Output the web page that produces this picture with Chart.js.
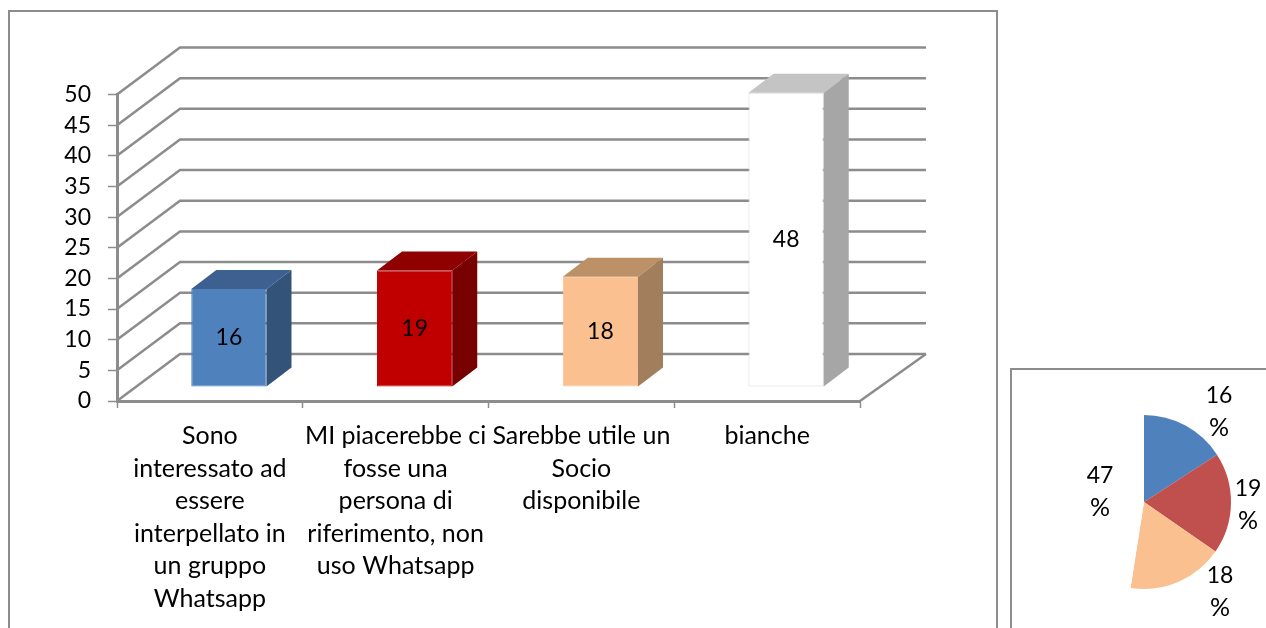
<!DOCTYPE html>
<html lang="it">
<head>
<meta charset="utf-8">
<title>Grafico</title>
<script src="https://cdn.jsdelivr.net/npm/chart.js@4"></script>
<style>
  html, body { margin: 0; padding: 0; width: 1266px; height: 628px; overflow: hidden; background: #fff; }
  .frame { position: absolute; border: 2px solid #8c8c8c; box-sizing: border-box; }
  #barFrame { left: 8px; top: 10px; width: 990px; height: 640px; }
  #pieFrame { left: 1010px; top: 368px; width: 300px; height: 300px; }
  canvas { position: absolute; }
  #barChart { left: 0; top: 0; }
  #pieChart { left: 1013px; top: 370px; }
</style>
</head>
<body>
<div class="frame" id="barFrame"></div>
<div class="frame" id="pieFrame"></div>
<canvas id="barChart" width="1000" height="628" style="width:1000px;height:628px"></canvas>
<canvas id="pieChart" width="253" height="258" style="width:253px;height:258px"></canvas>

<script>
const categories = [
  ['Sono', 'interessato ad', 'essere', 'interpellato in', 'un gruppo', 'Whatsapp'],
  ['MI piacerebbe ci', 'fosse una', 'persona di', 'riferimento, non', 'uso Whatsapp'],
  ['Sarebbe utile un', 'Socio', 'disponibile'],
  ['bianche']
];
const barValues = [16, 19, 18, 48];
const yTicks = [0, 5, 10, 15, 20, 25, 30, 35, 40, 45, 50];

const pieValues = [16, 19, 18, 48];
const pieLabels = ['16', '19', '18', '47'];

// colori: fronte, sopra, lato
const barFront = ['#4f81bd', '#c00000', '#fac090', '#ffffff'];
const barTop = ['#3d6090', '#8f0000', '#bd9168', '#c4c4c4'];
const barSide = ['#335378', '#790000', '#a37e5d', '#a6a6a6'];
const barEdge = ['#4f81bd', '#c00000', '#fac090', '#d9d9d9'];
const pieColors = ['#4f81bd', '#c0504d', '#fac090', '#ffffff'];

const lineColor = '#8c8c8c';
const fontName = 'Lato, Carlito, Calibri, sans-serif';
const digitSize = 23;
const textSize = 25;

// profondita del fondo e delle barre
const wallDepth = { x: 63, y: -47 };
const barDepth = { x: 25, y: -19 };
const barShift = { x: 19, y: -14 };

const wallsAndBoxes = {
  id: 'wallsAndBoxes',
  beforeDatasetsDraw(chart) {
    const ctx = chart.ctx;
    const y = chart.scales.y;
    const area = chart.chartArea;
    const backRight = area.right + wallDepth.x + 3;

    ctx.save();
    ctx.strokeStyle = lineColor;
    ctx.lineWidth = 2.5;
    yTicks.forEach(value => {
      const py = y.getPixelForValue(value);
      ctx.beginPath();
      ctx.moveTo(area.left, py);
      ctx.lineTo(area.left + wallDepth.x, py + wallDepth.y);
      ctx.lineTo(backRight, py + wallDepth.y);
      ctx.stroke();
    });
    // lato destro del pavimento
    ctx.beginPath();
    ctx.moveTo(backRight, area.bottom + wallDepth.y);
    ctx.lineTo(area.right, area.bottom);
    ctx.stroke();
    ctx.restore();

    // le barre stanno dentro il pavimento
    ctx.save();
    ctx.translate(barShift.x, barShift.y);
  },
  afterDatasetsDraw(chart) {
    const ctx = chart.ctx;
    ctx.restore();

    const bars = chart.getDatasetMeta(0).data;
    ctx.save();
    bars.forEach((bar, i) => {
      const left = bar.x - bar.width / 2 + barShift.x;
      const right = bar.x + bar.width / 2 + barShift.x;
      const top = bar.y + barShift.y;
      const bottom = bar.base + barShift.y;

      // sopra
      ctx.fillStyle = barTop[i];
      ctx.beginPath();
      ctx.moveTo(left, top);
      ctx.lineTo(left + barDepth.x, top + barDepth.y);
      ctx.lineTo(right + barDepth.x, top + barDepth.y);
      ctx.lineTo(right, top);
      ctx.closePath();
      ctx.fill();

      // lato
      ctx.fillStyle = barSide[i];
      ctx.beginPath();
      ctx.moveTo(right, top);
      ctx.lineTo(right + barDepth.x, top + barDepth.y);
      ctx.lineTo(right + barDepth.x, bottom + barDepth.y);
      ctx.lineTo(right, bottom);
      ctx.closePath();
      ctx.fill();

      // valore
      ctx.fillStyle = '#000';
      ctx.font = digitSize + 'px ' + fontName;
      ctx.textAlign = 'center';
      ctx.textBaseline = 'middle';
      ctx.fillText(String(barValues[i]), (left + right) / 2, (top + bottom) / 2);
    });
    ctx.restore();
  }
};

new Chart(document.getElementById('barChart'), {
  type: 'bar',
  data: {
    labels: categories,
    datasets: [{
      data: barValues,
      backgroundColor: barFront,
      borderColor: barEdge,
      borderWidth: 1,
      borderSkipped: false,
      barPercentage: 0.405,
      categoryPercentage: 1
    }]
  },
  plugins: [wallsAndBoxes],
  options: {
    responsive: false,
    animation: false,
    layout: { padding: { left: 50, right: 140, top: 94.5, bottom: 1 } },
    plugins: { legend: { display: false }, tooltip: { enabled: false } },
    scales: {
      x: {
        afterFit(scale) { scale.height = 226; },
        border: { color: lineColor, width: 3 },
        grid: { color: lineColor, drawOnChartArea: false, tickLength: 7, tickWidth: 1.5 },
        ticks: {
          color: '#000',
          autoSkip: false,
          maxRotation: 0,
          minRotation: 0,
          padding: 12,
          font: { family: fontName, size: textSize, lineHeight: 1.3 }
        }
      },
      y: {
        min: 0,
        max: 50,
        afterFit(scale) { scale.width = 67; },
        afterBuildTicks(scale) { scale.ticks = yTicks.map(v => ({ value: v })); },
        border: { color: lineColor, width: 3 },
        grid: { color: lineColor, drawOnChartArea: false, tickLength: 9, tickWidth: 1.5 },
        ticks: {
          color: '#000',
          padding: 17,
          font: { family: fontName, size: digitSize }
        }
      }
    }
  }
});

// le etichette della torta stanno fuori dalla fetta, spostate a mano dal centro
const pieLabelOffsets = [[75, -90], [104, 3], [76, 90], [-44, -10]];

const pieText = {
  id: 'pieText',
  afterDatasetsDraw(chart) {
    const ctx = chart.ctx;
    const arcs = chart.getDatasetMeta(0).data;
    ctx.save();
    ctx.fillStyle = '#000';
    ctx.textAlign = 'center';
    ctx.textBaseline = 'middle';
    arcs.forEach((arc, i) => {
      const px = arc.x + pieLabelOffsets[i][0];
      const py = arc.y + pieLabelOffsets[i][1];
      ctx.font = digitSize + 'px ' + fontName;
      ctx.fillText(pieLabels[i], px, py - 16);
      ctx.font = textSize + 'px ' + fontName;
      ctx.fillText('%', px, py + 16);
    });
    ctx.restore();
  }
};

new Chart(document.getElementById('pieChart'), {
  type: 'pie',
  data: {
    labels: pieLabels,
    datasets: [{
      data: pieValues,
      backgroundColor: pieColors,
      borderWidth: 0
    }]
  },
  plugins: [pieText],
  options: {
    responsive: false,
    animation: false,
    radius: 87,
    layout: { padding: { left: 9, top: 6 } },
    plugins: { legend: { display: false }, tooltip: { enabled: false } }
  }
});
</script>
</body>
</html>
